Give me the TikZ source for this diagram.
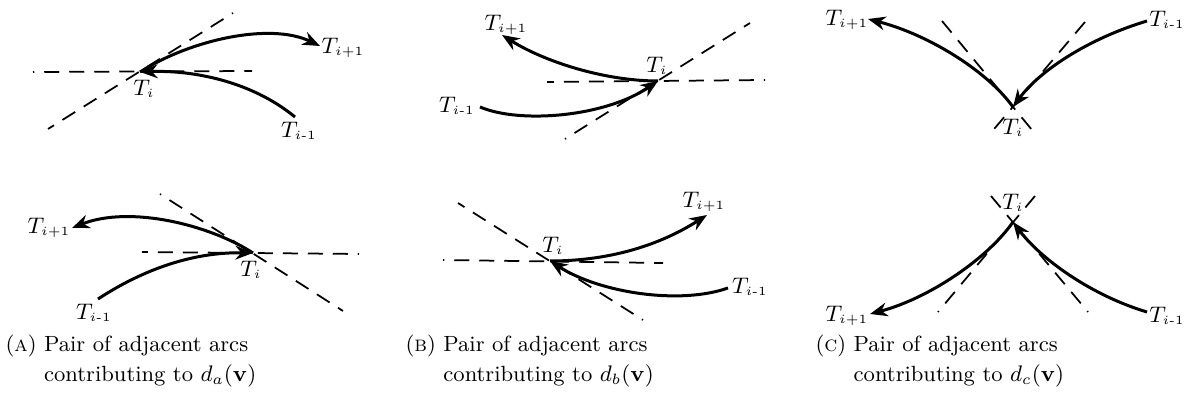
\documentclass[tikz,border=0pt]{standalone}
\usepackage{amsmath}
\usetikzlibrary{arrows.meta}
\newcommand{\Tcur}{$T_{\scriptscriptstyle i}$}
\newcommand{\Tsuiv}{$T_{\scriptscriptstyle i+1}$}
\newcommand{\Tprec}{$T_{\scriptscriptstyle i\text{-}1}$}
\begin{document}
\begin{tikzpicture}[x=0.4pt,y=-0.4pt]
\tikzstyle{tiret} = [line width=0.7pt,dash pattern=on 6pt off 4pt,dash phase=5.5pt] %droites en pointilles
\tikzstyle{fleche} = [line width=1.2pt,-{Stealth[length=7pt,width=5.5pt]}]
\tikzstyle{etiq} = [inner sep=0pt,font=\fontsize{9.5pt}{11pt}\selectfont]
\tikzstyle{legende} = [anchor=base west,inner sep=0pt,font=\fontsize{8.8pt}{12pt}\selectfont]
\useasboundingbox (0,0) rectangle (1187,411);
%(a) en haut
\coordinate (tiA) at (140,72);
\coordinate (sA) at (320,46);
\coordinate (pA) at (295,117);
\draw[tiret] (33,72) -- (252,71);
\draw[tiret] (233,13) -- (48,129);
\draw[fleche] (tiA) .. controls (190,40) and (270,22) .. (sA);
\draw[fleche] (pA) .. controls (250,80) and (190,70) .. (tiA);
\node[etiq] (lTiA) at (144,89) {\Tcur};
\node[etiq] (lTsA) at (343,48) {\Tsuiv};
\node[etiq] (lTpA) at (299,131) {\Tprec};
%(a) en bas
\coordinate (tiAb) at (253,253);
\coordinate (sAb) at (72,228);
\coordinate (pAb) at (98,299);
\draw[tiret] (359,254) -- (142,252);
\draw[tiret] (160,194) -- (343,311);
\draw[fleche] (tiAb) .. controls (210,225) and (130,205) .. (sAb);
\draw[fleche] (pAb) .. controls (150,265) and (200,252) .. (tiAb);
\node[etiq] (lTiAb) at (251,270) {\Tcur};
\node[etiq] (lTsAb) at (49,228) {\Tsuiv};
\node[etiq] (lTpAb) at (94,313) {\Tprec};
%(b) en haut
\coordinate (tiB) at (658,81);
\coordinate (sB) at (502,35);
\coordinate (pB) at (480,107);
\draw[tiret] (765,80) -- (547,82);
\draw[tiret] (565,139) -- (750,23);
\draw[fleche] (tiB) .. controls (605,81) and (545,62) .. (sB);
\draw[fleche] (pB) .. controls (520,124) and (605,117) .. (tiB);
\node[etiq] (lTiB) at (657,66) {\Tcur};
\node[etiq] (lTsB) at (506,25) {\Tsuiv};
\node[etiq] (lTpB) at (457,106) {\Tprec};
%(b) en bas
\coordinate (tiBb) at (550,261);
\coordinate (sBb) at (707,215);
\coordinate (pBb) at (728,288);
\draw[tiret] (443,260) -- (663,263);
\draw[tiret] (643,320) -- (458,203);
\draw[fleche] (tiBb) .. controls (610,261) and (660,245) .. (sBb);
\draw[fleche] (pBb) .. controls (680,305) and (600,293) .. (tiBb);
\node[etiq] (lTiBb) at (553,246) {\Tcur};
\node[etiq] (lTsBb) at (704,202) {\Tsuiv};
\node[etiq] (lTpBb) at (750,287) {\Tprec};
%(c) en haut
\coordinate (tiC) at (1013,107);
\coordinate (sC) at (868,19);
\coordinate (pC) at (1147,21);
\draw[tiret,dash phase=0pt] (942,21) -- (1037,136);
\draw[tiret,dash phase=0pt] (1085,22) -- (989,135);
\draw[fleche] (tiC) .. controls (988,72) and (930,35) .. (sC);
\draw[fleche] (pC) .. controls (1090,38) and (1040,70) .. (tiC);
\node[etiq] (lTiC) at (1013,128) {\Tcur};
\node[etiq] (lTsC) at (847,20) {\Tsuiv};
\node[etiq] (lTpC) at (1167,20) {\Tprec};
%(c) en bas
\coordinate (tiCb) at (1013,222);
\coordinate (sCb) at (870,314);
\coordinate (pCb) at (1147,312);
\draw[tiret,dash phase=0pt] (991,196) -- (1088,312);
\draw[tiret,dash phase=0pt] (1035,196) -- (938,312);
\draw[fleche] (tiCb) .. controls (988,258) and (930,298) .. (sCb);
\draw[fleche] (pCb) .. controls (1090,295) and (1040,258) .. (tiCb);
\node[etiq] (lTiCb) at (1013,203) {\Tcur};
\node[etiq] (lTsCb) at (847,316) {\Tsuiv};
\node[etiq] (lTpCb) at (1167,316) {\Tprec};
%legendes
\node[legende] (capA) at (5,352) {(\textsc{a})\ \begin{tabular}[t]{@{}l@{}}Pair of adjacent arcs\\ contributing to $d_a(\mathbf{v})$\end{tabular}};
\node[legende] (capB) at (405,352) {(\textsc{b})\ \begin{tabular}[t]{@{}l@{}}Pair of adjacent arcs\\ contributing to $d_b(\mathbf{v})$\end{tabular}};
\node[legende] (capC) at (815,352) {(\textsc{c})\ \begin{tabular}[t]{@{}l@{}}Pair of adjacent arcs\\ contributing to $d_c(\mathbf{v})$\end{tabular}};
\end{tikzpicture}
\end{document}
